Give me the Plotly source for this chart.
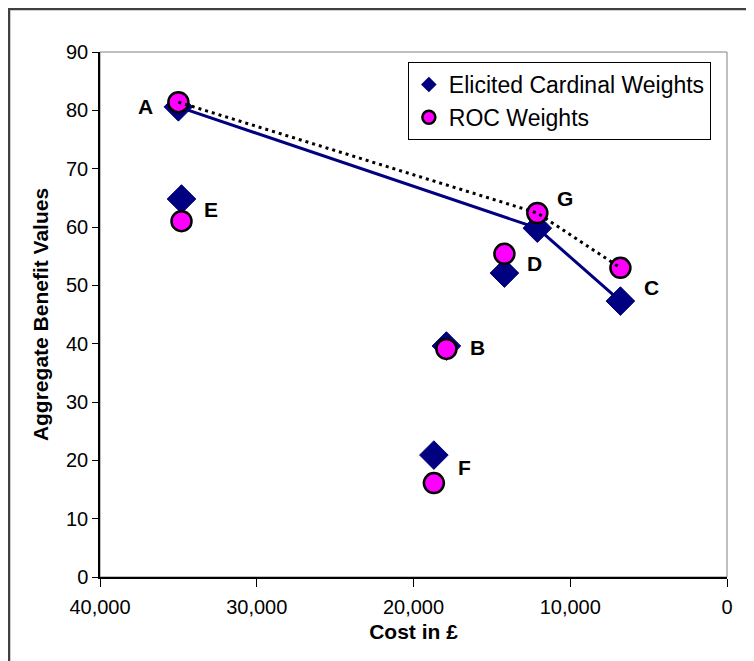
import plotly.graph_objects as go

# ---- data ----
labels = ["A", "B", "C", "D", "E", "F", "G"]
cost = [35000, 17900, 6800, 14200, 34800, 18700, 12100]
elicited = [80.6, 39.6, 47.3, 52.1, 64.8, 20.9, 59.8]
roc = [81.4, 39.1, 53.0, 55.4, 61.0, 16.1, 62.4]
frontier = ["A", "G", "C"]
x_ticks = [40000, 30000, 20000, 10000, 0]
y_ticks = [0, 10, 20, 30, 40, 50, 60, 70, 80, 90]

# label offsets (px) relative to the diamond markers
label_shift = {"A": (-33, 0), "B": (31, -1), "C": (31, 14), "D": (30, 10),
               "E": (29, -10), "F": (31, -12), "G": (28, 30)}

FONT = "Arial, Liberation Sans, sans-serif"
NAVY = "#000080"
MAGENTA = "#FF00FF"

idx = [labels.index(l) for l in frontier]
fx = [cost[i] for i in idx]
fe = [elicited[i] for i in idx]
fr = [roc[i] for i in idx]

fig = go.Figure()

# solid navy frontier (elicited)
fig.add_trace(go.Scatter(x=fx, y=fe, mode="lines",
                         line=dict(color=NAVY, width=3), showlegend=False, hoverinfo="skip"))
# diamonds
fig.add_trace(go.Scatter(x=cost, y=elicited, mode="markers",
                         marker=dict(symbol="diamond", size=22, color=NAVY,
                                     line=dict(color=NAVY, width=1)),
                         showlegend=False, name="Elicited Cardinal Weights"))
# circles
fig.add_trace(go.Scatter(x=cost, y=roc, mode="markers",
                         marker=dict(symbol="circle", size=20, color=MAGENTA,
                                     line=dict(color="black", width=2.5)),
                         showlegend=False, name="ROC Weights"))
# dotted frontier (ROC)
fig.add_trace(go.Scatter(x=fx, y=fr, mode="lines",
                         line=dict(color="black", width=3, dash="3px,4px"),
                         showlegend=False, hoverinfo="skip"))

# legend entries
fig.add_trace(go.Scatter(x=[None], y=[None], mode="markers", name="Elicited Cardinal Weights",
                         marker=dict(symbol="diamond", size=12, color=NAVY)))
fig.add_trace(go.Scatter(x=[None], y=[None], mode="markers", name="ROC Weights",
                         marker=dict(symbol="circle", size=13, color=MAGENTA,
                                     line=dict(color="black", width=2.5))))

for l, x, y in zip(labels, cost, elicited):
    dx, dy = label_shift[l]
    fig.add_annotation(x=x, y=y, text="<b>%s</b>" % l, showarrow=False,
                       xshift=dx, yshift=dy, font=dict(family=FONT, size=21, color="black"))

# plot area frame (gray) and outer chart border
fig.add_shape(type="rect", xref="paper", yref="paper", x0=0, x1=1, y0=0, y1=1,
              line=dict(color="#808080", width=1), layer="below")
fig.add_shape(type="rect", xref="paper", yref="paper", x0=-0.1451, x1=1.1, y0=-0.25, y1=1.0819,
              line=dict(color="#404040", width=2.5), layer="below")

fig.update_layout(
    width=754, height=661,
    margin=dict(l=92, r=35, t=44, b=92),
    paper_bgcolor="white", plot_bgcolor="white",
    font=dict(family=FONT, size=20, color="black"),
    showlegend=True,
    legend=dict(x=0.491, y=0.981, xanchor="left", yanchor="top",
                bgcolor="white", bordercolor="black", borderwidth=1,
                font=dict(family=FONT, size=23, color="black"),
                itemwidth=30, tracegroupgap=0),
    xaxis=dict(range=[40000, 0], tickvals=x_ticks, tickformat=",",
               showgrid=False, zeroline=False, showline=True, linecolor="black", linewidth=1.5,
               ticks="outside", ticklen=8, tickcolor="black", ticklabelstandoff=3,
               title=dict(text="<b>Cost in £</b>", font=dict(size=21), standoff=8)),
    yaxis=dict(range=[0, 90], tickvals=y_ticks,
               showgrid=False, zeroline=False, showline=True, linecolor="black", linewidth=1.5,
               ticks="outside", ticklen=6, tickcolor="black",
               title=dict(text="<b>Aggregate Benefit Values</b>", font=dict(size=21), standoff=12)),
)

fig.write_html("out.html")
